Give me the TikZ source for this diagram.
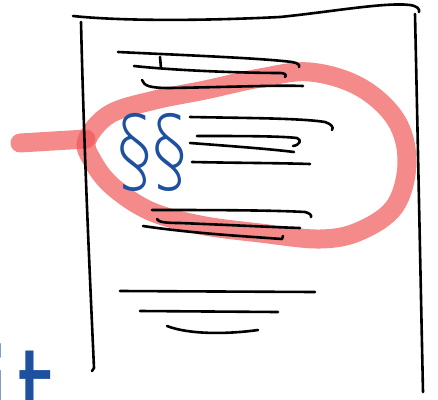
\documentclass[tikz,border=0pt]{standalone}
\usepackage{fontspec}
\newfontfamily\handfont{DejaVu Sans}
\newfontfamily\thinfont{DejaVu Sans ExtraLight}
\usetikzlibrary{positioning}
\definecolor{markerred}{RGB}{240,88,88}
\definecolor{penblue}{RGB}{30,80,160}
\tikzset{
  ink/.style={line width=2.6pt,line cap=round,line join=round},
  marker/.style={draw=markerred,draw opacity=0.7,line width=19pt,line cap=round,line join=round},
  pen/.style={text=penblue,inner sep=0pt},
}
\begin{document}
\begin{tikzpicture}[x=1pt,y=-1pt]
\useasboundingbox (0,0) rectangle (438,399);
\clip (0,0) rectangle (438,399);

% highlighter loop and its tail
\draw[marker] (20,143) -- (86,139);
\draw[marker] plot[smooth cycle,tension=0.6] coordinates {
  (87,140) (110,114) (155,100) (205,90) (260,78) (310,72) (360,87)
  (396,120) (407,162) (395,206) (360,231) (320,239) (260,233)
  (200,225) (150,211) (112,186) (92,160)};

% page
\draw[ink] (73,16) .. controls (120,21) and (200,21) .. (280,17)
  .. controls (330,12) and (385,2) .. (410,5) .. controls (417,6) and (420,9) .. (419,12);
\draw[ink] (81,22) .. controls (84,150) and (90,280) .. (94,368) -- (92,371);
\draw[ink] (415,14) .. controls (418,150) and (421,300) .. (423,392);

% text lines, top group
\draw[ink] (118,52) .. controls (180,55) and (260,58) .. (292,62) .. controls (298,63) and (300,65) .. (299,67);
\draw[ink] (134,66) .. controls (180,71) and (250,73) .. (280,73) .. controls (285,73) and (287,75) .. (285,77);
\draw[ink] (160,57) -- (161,68);
\draw[ink] (142,80) .. controls (144,86) and (150,88) .. (170,88) .. controls (230,87) and (280,85) .. (303,86);

% text lines, middle group
\draw[ink] (190,117) .. controls (240,118) and (300,118) .. (325,122) .. controls (331,124) and (334,127) .. (332,130);
\draw[ink] (197,136) .. controls (240,136) and (280,136) .. (297,138) .. controls (302,140) and (300,145) .. (293,146);
\draw[ink] (190,143) .. controls (230,146) and (270,149) .. (294,152);
\draw[ink] (192,162) .. controls (240,163) and (280,163) .. (310,164);

% text lines, lower group
\draw[ink] (152,210) .. controls (200,210) and (270,210) .. (305,212) .. controls (309,213) and (312,215) .. (311,217);
\draw[ink] (157,219) .. controls (158,222) and (165,223) .. (180,223) .. controls (230,225) and (270,227) .. (300,228);
\draw[ink] (143,226) .. controls (190,233) and (240,236) .. (282,239) -- (283,236);

% text lines, bottom group
\draw[ink] (120,291) -- (315,292);
\draw[ink] (140,311) -- (278,312);
\draw[ink] (167,326) .. controls (190,335) and (230,334) .. (258,330);

% handwriting
\node[pen,yscale=1.35] (sect) at (152,152) {\thinfont\fontsize{70}{70}\selectfont §§};
\node[pen,anchor=base west,yscale=1.4] (word) at (-16,439) {\handfont\fontsize{90}{90}\selectfont i\kern8pt t};
\end{tikzpicture}
\end{document}
